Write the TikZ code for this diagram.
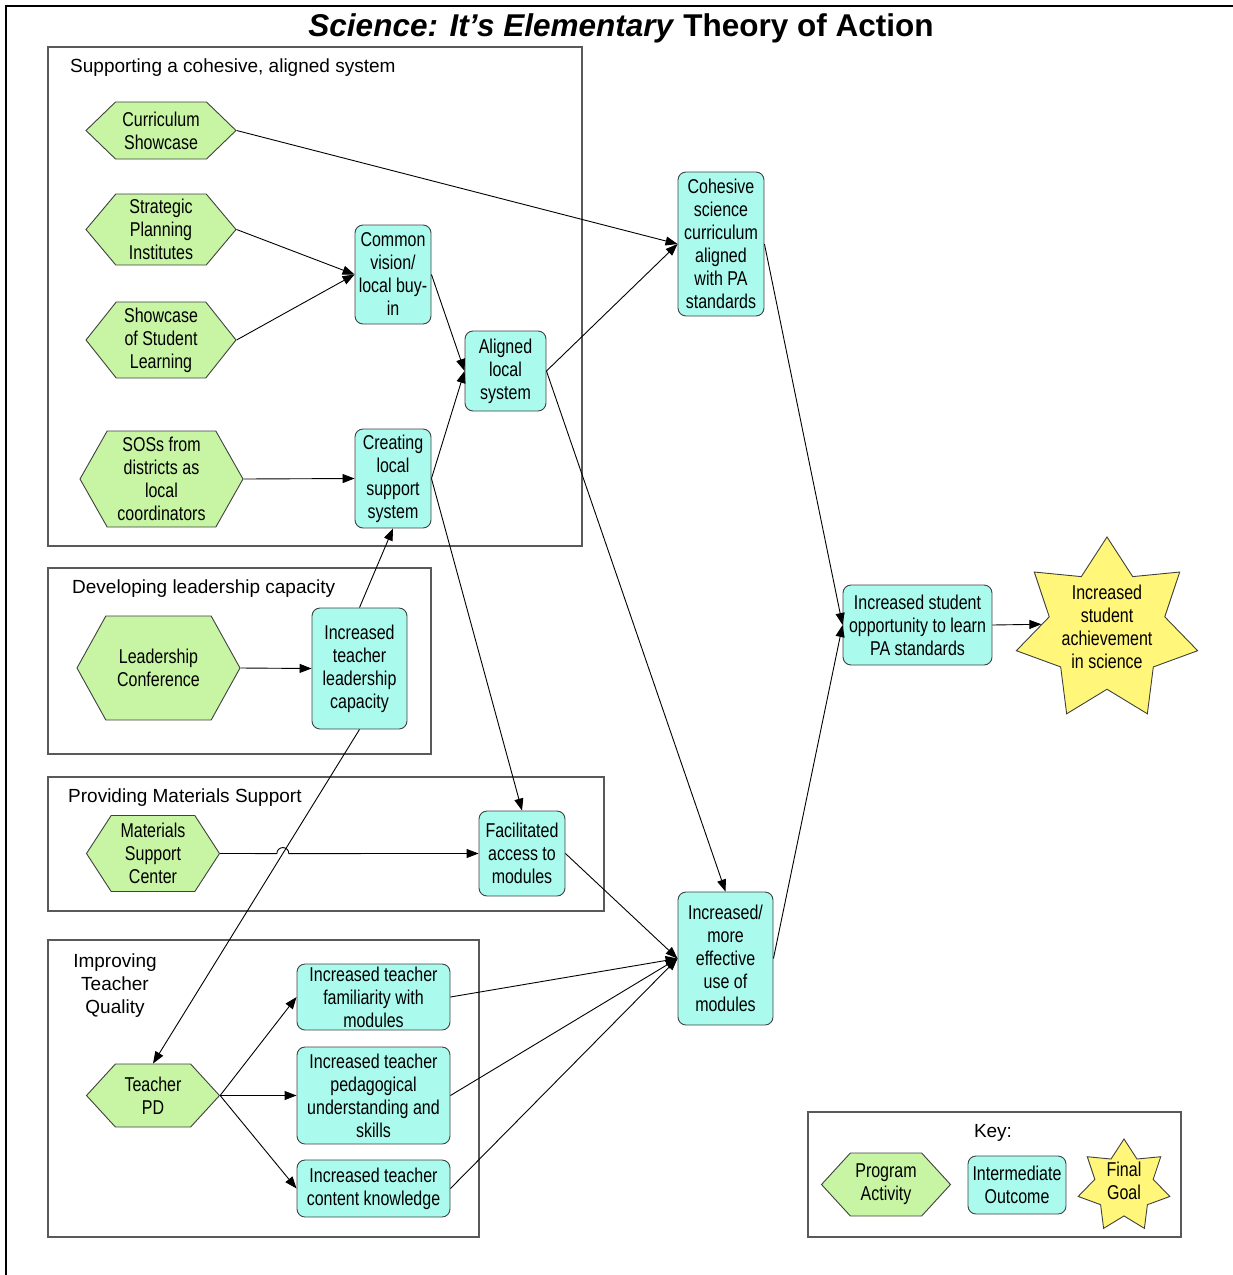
\documentclass[tikz,border=0pt]{standalone}
\usepackage{fontspec}
\setmainfont{Liberation Sans}
\newfontfamily\narrowfont{Liberation Sans}[FakeStretch=0.8]
\usetikzlibrary{arrows.meta,shapes.symbols,shapes.geometric,calc}
\definecolor{actgreen}{RGB}{199,245,163}
\definecolor{outcyan}{RGB}{170,251,238}
\definecolor{goalyellow}{RGB}{255,246,122}

\begin{document}
\begin{tikzpicture}[x=1pt, y=-1pt,
  boxfont/.style={font=\narrowfont\fontsize{20}{23}\selectfont},
  sz/.style 2 args={minimum width=#1pt, minimum height=#2pt},
  act/.style={signal, signal to=east and west, signal pointer angle=#1, draw=black!75, line width=0.9pt,
    fill=actgreen, align=center, inner sep=0pt, boxfont},
  outc/.style={rectangle, rounded corners=8pt, draw=black!75, line width=0.9pt, fill=outcyan,
    align=center, inner sep=0pt, boxfont},
  goal/.style={star, star points=7, star point ratio=1.57, draw=black!75, line width=0.9pt,
    fill=goalyellow, inner sep=0pt},
  goallbl/.style={align=center, inner sep=0pt, boxfont},
  grp/.style={draw=black!65, line width=1.3pt},
  grptitle/.style={inner sep=0pt, font=\fontsize{19}{23}\selectfont},
  link/.style={-{Triangle[length=12pt,width=9pt]}, line width=0.9pt}]
\useasboundingbox (0,0) rectangle (1233,1275);
\draw[line width=2.2pt] (6,1275) -- (6,6) -- (1233,6);
\node[anchor=base, font=\bfseries\fontsize{31.5}{36}\selectfont] (title) at (621,36)
  {\textit{Science: It’s Elementary} Theory of Action};
\draw[grp] (48,47) rectangle (582,546);
\draw[grp] (48,568) rectangle (431,754);
\draw[grp] (48,777) rectangle (604,911);
\draw[grp] (48,940) rectangle (479,1237);
\draw[grp] (808,1112) rectangle (1181,1237);
\node[grptitle, anchor=west] (g1) at (70,68) {Supporting a cohesive, aligned system};
\node[grptitle, anchor=west] (g2) at (72,589) {Developing leadership capacity};
\node[grptitle, anchor=west] (g3) at (68,798) {Providing Materials Support};
\node[grptitle, align=center] (g4) at (115,986) {Improving\\Teacher\\Quality};
\node[grptitle] (key) at (993,1133) {Key:};

\node[act=88, sz={150}{57}] (cshow) at (161,130.5) {Curriculum\\Showcase};
\node[act=100, sz={150}{71}] (spi) at (161,229.5) {Strategic\\Planning\\Institutes};
\node[act=103, sz={150}{76}] (ssl) at (161,340) {Showcase\\of Student\\Learning};
\node[act=121, sz={163}{96}] (sos) at (161.5,479) {SOSs from\\districts as\\local\\coordinators};
\node[act=122, sz={163}{104}] (lconf) at (158.5,668) {Leadership\\Conference};
\node[act=114, sz={133}{76}] (msc) at (153,853.5) {Materials\\Support\\Center};
\node[act=95, sz={133}{63}] (tpd) at (153,1095.5) {Teacher\\PD};
\node[act=95, sz={129}{63}] (kact) at (886,1184.5) {Program\\Activity};

\node[outc, sz={76}{99}] (cvis) at (393,274.5) {Common\\vision/\\local buy-\\in};
\node[outc, sz={76}{99}] (cls) at (393,478.5) {Creating\\local\\support\\system};
\node[outc, sz={81}{80}] (als) at (505.5,371) {Aligned\\local\\system};
\node[outc, sz={86}{144}] (csc) at (721,244) {Cohesive\\science\\curriculum\\aligned\\with PA\\standards};
\node[outc, sz={95}{121}] (itl) at (359.5,668.5) {Increased\\teacher\\leadership\\capacity};
\node[outc, sz={86}{85}] (fam) at (522,853.5) {Facilitated\\access to\\modules};
\node[outc, sz={95}{133}] (ieu) at (725.5,958.5) {Increased/\\more\\effective\\use of\\modules};
\node[outc, sz={149}{80}] (iso) at (917.5,625) {Increased student\\opportunity to learn\\PA standards};
\node[outc, sz={153}{66}] (itf) at (373.5,997) {Increased teacher\\familiarity with\\modules};
\node[outc, sz={153}{97}] (itp) at (373.5,1095.5) {Increased teacher\\pedagogical\\understanding and\\skills};
\node[outc, sz={153}{57}] (itc) at (373.5,1188.5) {Increased teacher\\content knowledge};
\node[outc, sz={98}{58}] (kout) at (1017,1185) {Intermediate\\Outcome};

\node[goal, minimum size=186pt, label={[goallbl, name=isatxt, yshift=3pt]center:{Increased\\student\\achievement\\in science}}] (isa) at (1107,630) {};
\node[goal, minimum size=94pt, label={[goallbl, name=kgoaltxt, yshift=5pt]center:{Final\\Goal}}] (kgoal) at (1124,1186) {};

\draw[link] (cshow.east) -- (csc.west);
\draw[link] (spi.east) -- (cvis.west);
\draw[link] (ssl.east) -- (cvis.west);
\draw[link] (sos.east) -- (cls.west);
\draw[link] (cvis.east) -- (als.west);
\draw[link] (cls.east) -- (als.west);
\draw[link] (als.east) -- (csc.west);
\draw[link] (als.east) -- (ieu.north);
\draw[link] (cls.east) -- (fam.north);
\draw[link] (lconf.east) -- (itl.west);
\draw[link] (itl.north) -- (cls.south);
\draw[link] (itl.south) -- (tpd.north);
\coordinate (hop) at (intersection of itl.south--tpd.north and msc.east--fam.west);
\draw[link] (msc.east) -- ($(hop)+(-6,0)$) arc[start angle=180, end angle=0, radius=6pt] -- (fam.west);
\draw[link] (fam.east) -- (ieu.west);
\foreach \t in {itf,itp,itc} {
  \draw[link] (tpd.east) -- (\t.west);
  \draw[link] (\t.east) -- (ieu.west);
}
\draw[link] (csc.east) -- (iso.west);
\draw[link] (ieu.east) -- (iso.west);
\draw[link] (iso.east) -- (isa.175);
\end{tikzpicture}
\end{document}
